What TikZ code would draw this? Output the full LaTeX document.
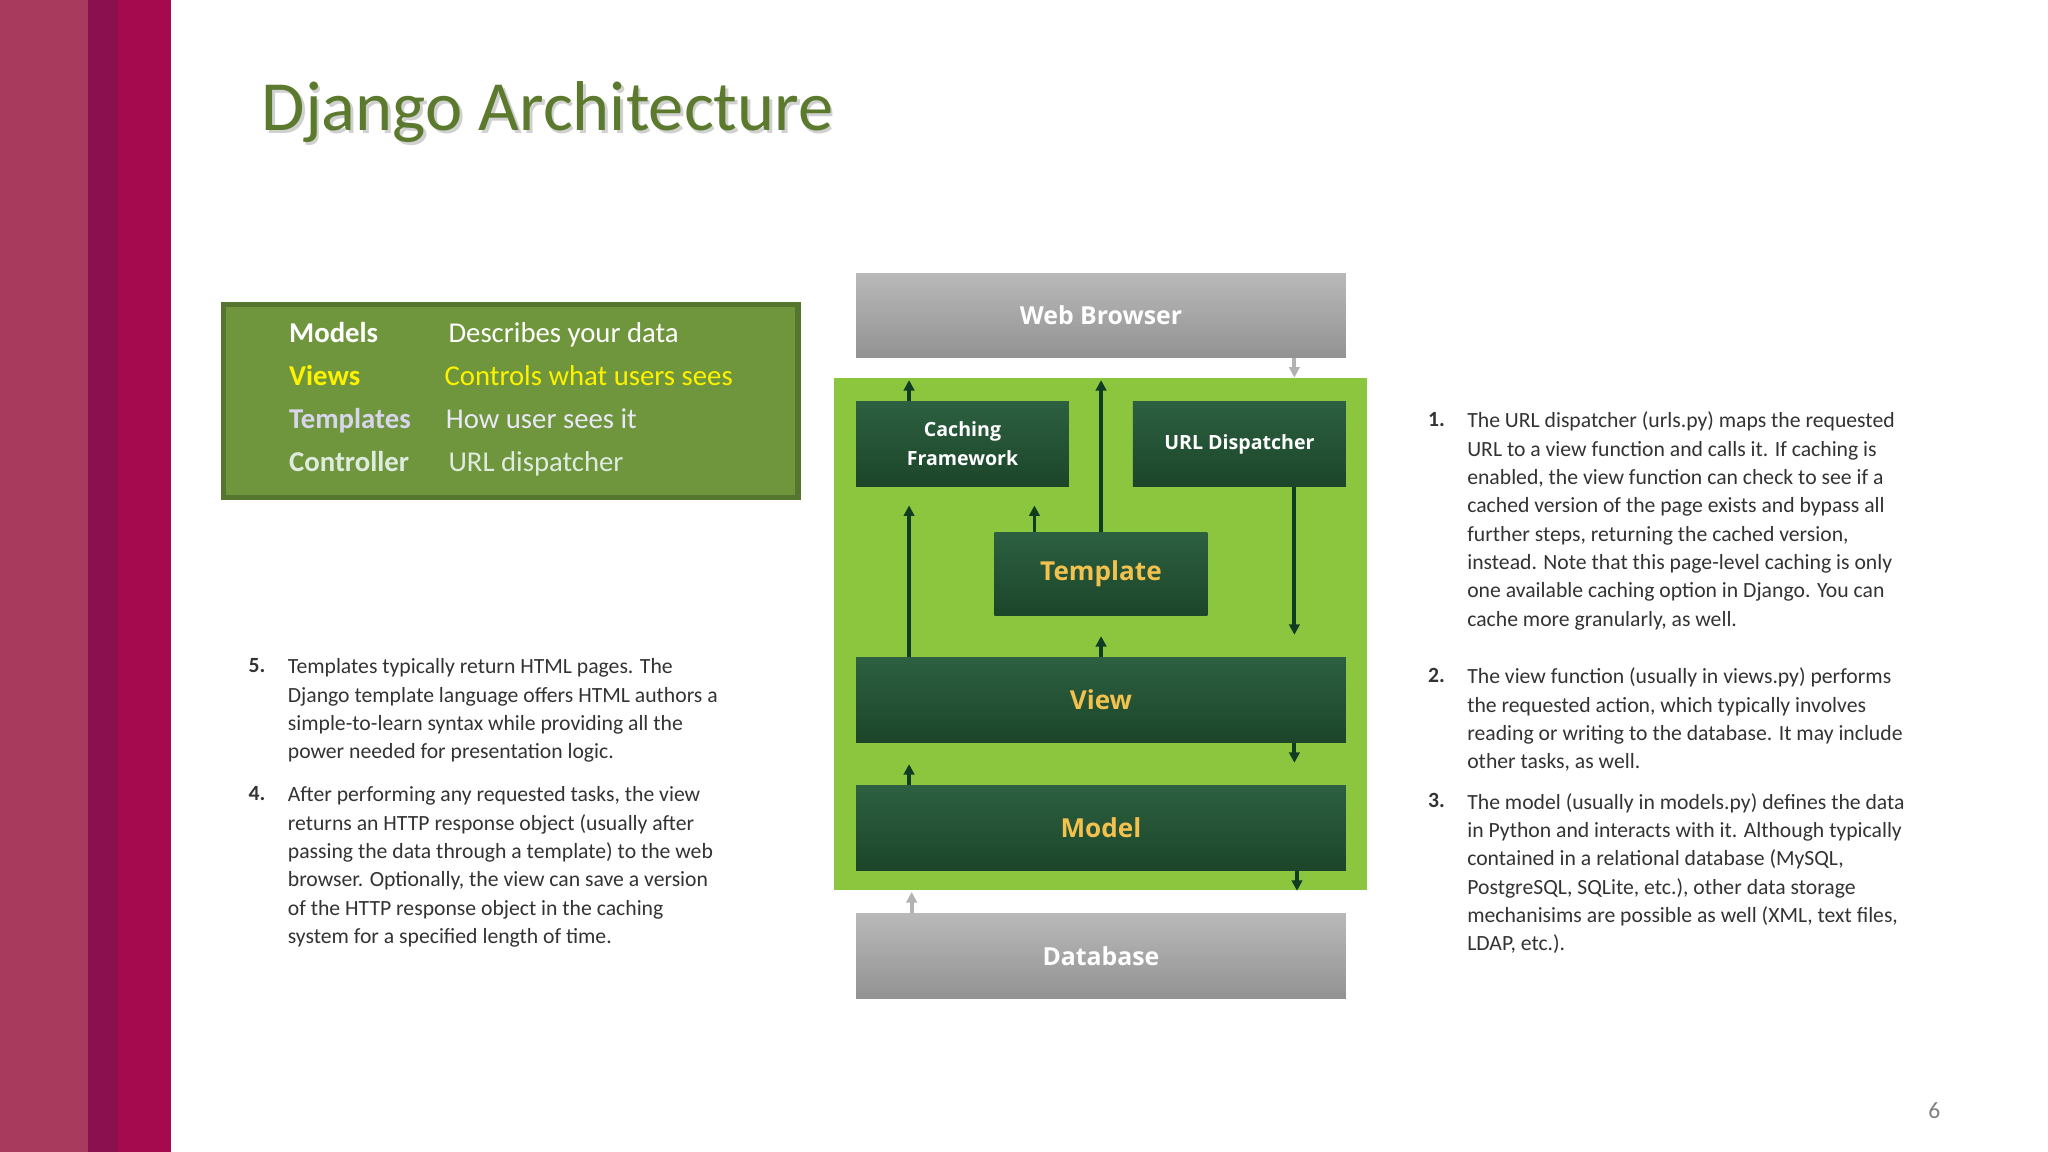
\documentclass[tikz,border=0pt]{standalone}
\usepackage{fontspec}
\setmainfont{Carlito}
\newfontfamily\diag{Open Sans}
\usetikzlibrary{arrows.meta,shadows}
\definecolor{barA}{HTML}{A83A5E}
\definecolor{barB}{HTML}{8A1050}
\definecolor{barC}{HTML}{A60A4E}
\definecolor{legfill}{HTML}{6F963D}
\definecolor{legdraw}{HTML}{56752E}
\definecolor{lime}{HTML}{8CC63F}
\definecolor{dgtop}{HTML}{2C6040}
\definecolor{dgbot}{HTML}{1C4529}
\definecolor{gold}{HTML}{F2C14E}
\definecolor{titlec}{HTML}{5B7A2E}
\definecolor{bodyc}{HTML}{333333}
\definecolor{arr}{HTML}{0F3D22}
\tikzset{
 dg/.style={top color=dgtop,bottom color=dgbot,draw=none,inner sep=0pt,font=\diag\bfseries},
 gr/.style={top color=gray!55,bottom color=gray!85,draw=none,inner sep=0pt,text=white,font=\diag\bfseries\fontsize{9.5}{11}\selectfont},
 ar/.style={-{Triangle[length=4pt,width=4pt]},line width=1.5pt,draw=arr},
 ga/.style={-{Triangle[length=4pt,width=4pt]},line width=1.5pt,draw=gray!60},
 body/.style={anchor=north west,align=left,inner sep=0pt,text=bodyc,font=\fontsize{8.3}{10.85}\selectfont},
 num/.style={anchor=north west,inner sep=0pt,text=bodyc,font=\bfseries\fontsize{8.3}{10.85}\selectfont},
 lk/.style={anchor=base west,inner sep=0pt,font=\bfseries\fontsize{11}{13}\selectfont},
 lv/.style={anchor=base west,inner sep=0pt,font=\fontsize{11}{13}\selectfont},
}
\begin{document}
\begin{tikzpicture}[x=0.5pt,y=-0.5pt]
\useasboundingbox (0,0) rectangle (1568,882);
\fill[white] (0,0) rectangle (1568,882);
\fill[barA] (0,0) rectangle (67,882);
\fill[barB] (67,0) rectangle (90,882);
\fill[barC] (90,0) rectangle (131,882);
% title
\node[anchor=base west,inner sep=0pt,text=black!30,opacity=0.6,font=\fontsize{27}{30}\selectfont] at (202,102) {Django Architecture};
\node (title)[anchor=base west,inner sep=0pt,text=titlec,font=\fontsize{27}{30}\selectfont] at (200,100) {Django Architecture};
% legend
\node (legend)[draw=legdraw,line width=2pt,fill=legfill,minimum width=220pt,minimum height=74pt,inner sep=0pt,anchor=north west] at (169,231) {};
\node (k1)[lk,text=white] at (221,262) {Models};
\node (v1)[lv,text=white] at (343,262) {Describes your data};
\node (k2)[lk,text=yellow] at (221,295) {Views};
\node (v2)[lv,text=yellow] at (340,295) {Controls what users sees};
\node (k3)[lk,text=cyan!20!blue!15] at (221,328) {Templates};
\node (v3)[lv,text=cyan!10!blue!8] at (341,328) {How user sees it};
\node (k4)[lk,text=green!5!white!92!black] at (221,361) {Controller};
\node (v4)[lv,text=green!5!white!92!black] at (343,361) {URL dispatcher};
% diagram
\node (green)[fill=lime,inner sep=0pt,minimum width=204pt,minimum height=196pt,anchor=north west] at (638,289) {};
\node (web)[gr,minimum width=187.5pt,minimum height=32pt,anchor=north west] at (655,209) {Web Browser};
\node (db)[gr,minimum width=187.5pt,minimum height=32.5pt,anchor=north west] at (655,699) {Database};
\node (cache)[dg,text=white,align=center,minimum width=81.5pt,minimum height=32.5pt,anchor=north west,font=\diag\bfseries\fontsize{7.5}{11}\selectfont] at (655,307) {Caching\\Framework};
\node (url)[dg,text=white,minimum width=81.5pt,minimum height=32.5pt,anchor=north west,font=\diag\bfseries\fontsize{7.5}{9}\selectfont] at (867,307) {URL Dispatcher};
\node (tpl)[dg,text=gold,minimum width=81.5pt,minimum height=32pt,anchor=north west,font=\diag\bfseries\fontsize{10}{12}\selectfont] at (761,407) {Template};
\node (view)[dg,text=gold,minimum width=187.5pt,minimum height=32.5pt,anchor=north west,font=\diag\bfseries\fontsize{10}{12}\selectfont] at (655,503) {View};
\node (model)[dg,text=gold,minimum width=187.5pt,minimum height=32.5pt,anchor=north west,font=\diag\bfseries\fontsize{10}{12}\selectfont] at (655,601) {Model};
\coordinate (c1) at (696,291);
\coordinate (c2) at (843,291);
\coordinate (c3) at (991,289);
\coordinate (c4) at (696,387);
\coordinate (c5) at (792,387);
\coordinate (c6) at (991,486);
\coordinate (c7) at (843,487);
\coordinate (c8) at (991,584);
\coordinate (c9) at (696,585);
\coordinate (c10) at (993,682);
\coordinate (c11) at (698,683);
\draw[ar] (cache.north -| c1) -- (c1);
\draw[ar] (tpl.north -| c2) -- (c2);
\draw[ga] (web.south -| c3) -- (c3);
\draw[ar] (view.north -| c4) -- (c4);
\draw[ar] (tpl.north -| c5) -- (c5);
\draw[ar] (url.south -| c6) -- (c6);
\draw[ar] (view.north -| c7) -- (c7);
\draw[ar] (view.south -| c8) -- (c8);
\draw[ar] (model.north -| c9) -- (c9);
\draw[ar] (model.south -| c10) -- (c10);
\draw[ga] (db.north -| c11) -- (c11);
% left texts
\node (n5)[num] at (190,504) {5.};
\node (t5)[body] at (220,504) {Templates typically return HTML pages. The\\Django template language offers HTML authors a\\simple-to-learn syntax while providing all the\\power needed for presentation logic.};
\node (n4)[num] at (190,602) {4.};
\node (t4)[body] at (220,602) {After performing any requested tasks, the view\\returns an HTTP response object (usually after\\passing the data through a template) to the web\\browser. Optionally, the view can save a version\\of the HTTP response object in the caching\\system for a specified length of time.};
% right texts
\node (n1)[num] at (1093,315) {1.};
\node (t1)[body] at (1123,315) {The URL dispatcher (urls.py) maps the requested\\URL to a view function and calls it. If caching is\\enabled, the view function can check to see if a\\cached version of the page exists and bypass all\\further steps, returning the cached version,\\instead. Note that this page-level caching is only\\one available caching option in Django. You can\\cache more granularly, as well.};
\node (n2)[num] at (1093,511) {2.};
\node (t2)[body] at (1123,511) {The view function (usually in views.py) performs\\the requested action, which typically involves\\reading or writing to the database. It may include\\other tasks, as well.};
\node (n3)[num] at (1093,607) {3.};
\node (t3)[body] at (1123,607) {The model (usually in models.py) defines the data\\in Python and interacts with it. Although typically\\contained in a relational database (MySQL,\\PostgreSQL, SQLite, etc.), other data storage\\mechanisims are possible as well (XML, text files,\\LDAP, etc.).};
\node (page)[anchor=base,inner sep=0pt,text=gray,font=\fontsize{9}{11}\selectfont] at (1481,856) {6};
\end{tikzpicture}
\end{document}
